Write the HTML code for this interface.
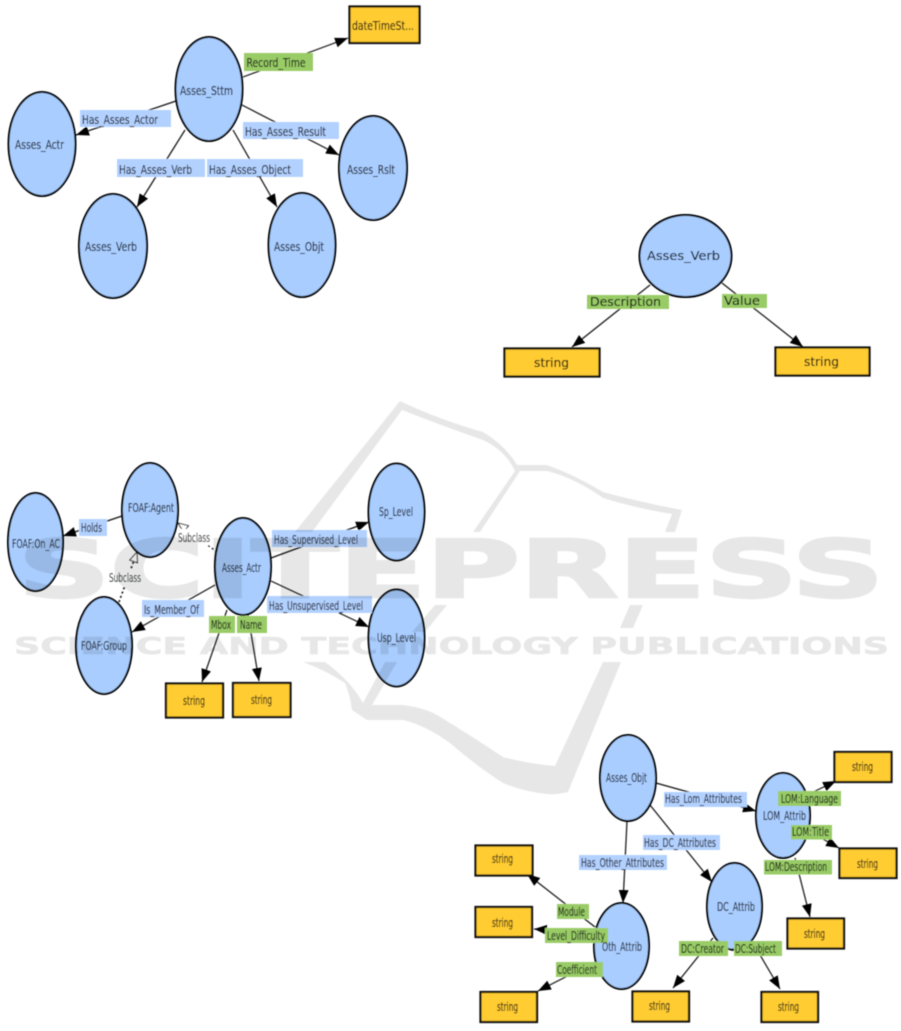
<!DOCTYPE html>
<html><head><meta charset="utf-8"><style>
html,body{margin:0;padding:0;background:#fff;width:901px;height:1031px;overflow:hidden}
svg{display:block}
text{font-family:"DejaVu Sans","Liberation Sans",sans-serif;font-size:12.500px;fill:#0a0a14;stroke:#0a0a14;stroke-width:.12}
.e{fill:#a9cdff;stroke:#000;stroke-width:2}
.r{fill:#ffcc33;stroke:#111;stroke-width:2.200}
.g{fill:#99cc66}
.b{fill:#b3d1ff}
.l{stroke:#111;stroke-width:1.200;fill:none;marker-end:url(#a)}
.wm{mix-blend-mode:multiply}
.wm text{font-family:"DejaVu Sans","Liberation Sans",sans-serif;font-weight:700;fill:#e6e7e6;stroke:#e6e7e6}
.wm path{fill:#e6e7e6;stroke:none}
</style></head><body>
<svg width="901" height="1031" viewBox="0 0 901 1031" xmlns="http://www.w3.org/2000/svg">
<defs>
<marker id="a" markerUnits="userSpaceOnUse" markerWidth="14" markerHeight="12" refX="13" refY="6" orient="auto"><path d="M0,1L13,6L0,11z" fill="#000"/></marker>
<marker id="h" markerUnits="userSpaceOnUse" markerWidth="12" markerHeight="10" refX="11" refY="5" orient="auto"><path d="M1,1L11,5L1,9z" fill="#fff" stroke="#222" stroke-width="1"/></marker>
<filter id="s" x="-2%" y="-2%" width="104%" height="104%"><feGaussianBlur stdDeviation="0.4"/></filter>
</defs>
<g filter="url(#s)">
<!-- top diagram -->
<path class="l" d="M243,77L348,38"/><path class="l" d="M176,101L76,135"/><path class="l" d="M242,105L339,155"/><path class="l" d="M185,130L137,207"/><path class="l" d="M233,130L277,207"/>
<ellipse class="e" cx="209" cy="89" rx="33.500" ry="52"/><ellipse class="e" cx="42" cy="144" rx="33.500" ry="52"/><ellipse class="e" cx="113" cy="246" rx="34" ry="52"/><ellipse class="e" cx="302" cy="245" rx="33.500" ry="52"/><ellipse class="e" cx="373" cy="168" rx="34" ry="52"/>
<rect class="r" x="349.500" y="6.500" width="70" height="36.500"/>
<rect class="g" x="244" y="53" width="69" height="18"/><rect class="b" x="80" y="110" width="91" height="17"/><rect class="b" x="243" y="122" width="96" height="17"/><rect class="b" x="117" y="159" width="88" height="18"/><rect class="b" x="207" y="159" width="96" height="18"/>
<g style="font-size:14.500px">
<text x="180" y="95" textLength="53" lengthAdjust="spacingAndGlyphs">Asses_Sttm</text>
<text x="15" y="149" textLength="49" lengthAdjust="spacingAndGlyphs">Asses_Actr</text>
<text x="85" y="251" textLength="52" lengthAdjust="spacingAndGlyphs">Asses_Verb</text>
<text x="274" y="251" textLength="50" lengthAdjust="spacingAndGlyphs">Asses_Objt</text>
<text x="347" y="174" textLength="48" lengthAdjust="spacingAndGlyphs">Asses_Rslt</text>
<text x="352" y="30" textLength="62" lengthAdjust="spacingAndGlyphs">dateTimeSt...</text>
<text x="246.500" y="67" textLength="59" lengthAdjust="spacingAndGlyphs">Record_Time</text>
<text x="82" y="124" textLength="76" lengthAdjust="spacingAndGlyphs">Has_Asses_Actor</text>
<text x="245" y="136" textLength="81" lengthAdjust="spacingAndGlyphs">Has_Asses_Result</text>
<text x="119" y="174" textLength="73" lengthAdjust="spacingAndGlyphs">Has_Asses_Verb</text>
<text x="209" y="174" textLength="82" lengthAdjust="spacingAndGlyphs">Has_Asses_Object</text>
</g>
<!-- verb diagram -->
<path class="l" d="M650,285L572,347"/><path class="l" d="M722,283L803,347"/>
<ellipse class="e" cx="685.500" cy="256" rx="46" ry="41"/>
<rect class="r" x="504.500" y="348.500" width="95" height="28"/><rect class="r" x="775.500" y="347.500" width="94" height="28"/>
<rect class="g" x="587" y="295" width="82" height="14"/><rect class="g" x="722" y="294" width="45" height="14"/>
<text x="647" y="260" textLength="73" lengthAdjust="spacingAndGlyphs">Asses_Verb</text>
<text x="590" y="306" textLength="71" lengthAdjust="spacingAndGlyphs">Description</text>
<text x="724" y="305" textLength="36" lengthAdjust="spacingAndGlyphs">Value</text>
<text x="534" y="367" textLength="35" lengthAdjust="spacingAndGlyphs">string</text>
<text x="804" y="366" textLength="35" lengthAdjust="spacingAndGlyphs">string</text>
<!-- actor diagram -->
<path class="l" d="M122,516L63,536"/><path class="l" d="M215,585L132,632"/><path class="l" d="M271,558L369,522"/><path class="l" d="M271,581L369,627"/><path class="l" d="M227,610L202,682"/><path class="l" d="M248,615L259,681"/>
<path d="M217,552L178,523" stroke="#111" stroke-width="1.300" stroke-dasharray="2 2.500" fill="none" marker-end="url(#h)"/><path d="M119,602L137,552" stroke="#111" stroke-width="1.600" stroke-dasharray="2 2.500" fill="none" marker-end="url(#h)"/>
<ellipse class="e" cx="35.500" cy="542" rx="27.500" ry="49"/><ellipse class="e" cx="150" cy="510" rx="28" ry="47"/><ellipse class="e" cx="243" cy="566.500" rx="28" ry="48.500"/><ellipse class="e" cx="396.500" cy="512" rx="28" ry="48.500"/><ellipse class="e" cx="396.500" cy="638" rx="28" ry="48.500"/><ellipse class="e" cx="104" cy="645.500" rx="28" ry="48.500"/>
<rect class="r" x="166" y="683.500" width="57" height="34"/><rect class="r" x="233" y="683" width="57.500" height="34"/>
<rect fill="#fff" x="178" y="529" width="33" height="16"/><rect fill="#fff" x="109" y="570" width="32" height="16"/>
<rect class="b" x="79" y="519" width="28" height="17"/><rect class="b" x="272" y="530" width="95" height="17"/><rect class="b" x="267" y="596" width="105" height="17"/><rect class="b" x="142" y="600" width="62" height="17"/><rect class="g" x="209" y="616" width="26" height="17"/><rect class="g" x="237" y="616" width="30" height="17"/>
<g style="font-size:13.500px">
<text x="128" y="512" textLength="46" lengthAdjust="spacingAndGlyphs">FOAF:Agent</text>
<text x="12" y="548" textLength="48" lengthAdjust="spacingAndGlyphs">FOAF:On_AC</text>
<text x="222" y="572" textLength="39" lengthAdjust="spacingAndGlyphs">Asses_Actr</text>
<text x="379" y="516" textLength="34" lengthAdjust="spacingAndGlyphs">Sp_Level</text>
<text x="377" y="642" textLength="39" lengthAdjust="spacingAndGlyphs">Usp_Level</text>
<text x="81" y="650" textLength="46" lengthAdjust="spacingAndGlyphs">FOAF:Group</text>
<text x="183" y="705" textLength="22" lengthAdjust="spacingAndGlyphs">string</text>
<text x="251" y="704" textLength="21" lengthAdjust="spacingAndGlyphs">string</text>
<text x="81" y="532" textLength="21" lengthAdjust="spacingAndGlyphs">Holds</text>
<text x="178" y="542" textLength="32" lengthAdjust="spacingAndGlyphs">Subclass</text>
<text x="109" y="582" textLength="32" lengthAdjust="spacingAndGlyphs">Subclass</text>
<text x="274" y="544" textLength="84" lengthAdjust="spacingAndGlyphs">Has_Supervised_Level</text>
<text x="269" y="610" textLength="94" lengthAdjust="spacingAndGlyphs">Has_Unsupervised_Level</text>
<text x="144" y="614" textLength="55" lengthAdjust="spacingAndGlyphs">Is_Member_Of</text>
<text x="211" y="629" textLength="20" lengthAdjust="spacingAndGlyphs">Mbox</text>
<text x="240" y="629" textLength="22" lengthAdjust="spacingAndGlyphs">Name</text>
</g>
<!-- object diagram -->
<path class="l" d="M656,783L756,811"/><path class="l" d="M650,805L712,882"/><path class="l" d="M627,821L623,903"/><path class="l" d="M803,797L836,781"/><path class="l" d="M807,830L839,848"/><path class="l" d="M795,858L810,917"/><path class="l" d="M595,927L527,874"/><path class="l" d="M594,933L534,929"/><path class="l" d="M595,962L538,991"/><path class="l" d="M713,938L673,988"/><path class="l" d="M753,943L780,989"/>
<ellipse class="e" cx="628" cy="778" rx="28" ry="43"/><ellipse class="e" cx="783" cy="815.500" rx="27" ry="42.500"/><ellipse class="e" cx="734.500" cy="906.500" rx="27.500" ry="43.500"/><ellipse class="e" cx="621.500" cy="946" rx="27.500" ry="43"/>
<rect class="r" x="834.500" y="752" width="57" height="30"/><rect class="r" x="839.500" y="848.500" width="57" height="29.500"/><rect class="r" x="787.500" y="918.500" width="56.500" height="30"/><rect class="r" x="632.500" y="991.500" width="56.500" height="30"/><rect class="r" x="761.500" y="992" width="56.500" height="30"/><rect class="r" x="480.500" y="992" width="56.500" height="30"/><rect class="r" x="475.500" y="907" width="56.500" height="30"/><rect class="r" x="475.500" y="845.500" width="57" height="30"/>
<rect class="b" x="664" y="792" width="83" height="15"/><rect class="b" x="643" y="835" width="77" height="15"/><rect class="b" x="579" y="855" width="88" height="15"/><rect class="g" x="778" y="791" width="63" height="15"/><rect class="g" x="791" y="825" width="41" height="14.500"/><rect class="g" x="764" y="860" width="68" height="14.500"/><rect class="g" x="557" y="904" width="32" height="15"/><rect class="g" x="545" y="928" width="63" height="15"/><rect class="g" x="556" y="962" width="47" height="15"/><rect class="g" x="679" y="941" width="49" height="15"/><rect class="g" x="734" y="941" width="48" height="15"/>
<path d="M728,949H734" stroke="#111" stroke-width="1"/>
<g style="font-size:12.500px">
<text x="606" y="782" textLength="41" lengthAdjust="spacingAndGlyphs">Asses_Objt</text>
<text x="763" y="820" textLength="43" lengthAdjust="spacingAndGlyphs">LOM_Attrib</text>
<text x="717" y="911" textLength="38" lengthAdjust="spacingAndGlyphs">DC_Attrib</text>
<text x="602" y="951" textLength="40" lengthAdjust="spacingAndGlyphs">Oth_Attrib</text>
<text x="852" y="771" textLength="21" lengthAdjust="spacingAndGlyphs">string</text>
<text x="857" y="868" textLength="21" lengthAdjust="spacingAndGlyphs">string</text>
<text x="804" y="938" textLength="21" lengthAdjust="spacingAndGlyphs">string</text>
<text x="649" y="1010" textLength="21" lengthAdjust="spacingAndGlyphs">string</text>
<text x="778" y="1011" textLength="21" lengthAdjust="spacingAndGlyphs">string</text>
<text x="497" y="1011" textLength="21" lengthAdjust="spacingAndGlyphs">string</text>
<text x="492" y="927" textLength="21" lengthAdjust="spacingAndGlyphs">string</text>
<text x="492" y="863" textLength="21" lengthAdjust="spacingAndGlyphs">string</text>
<text x="665" y="803" textLength="77" lengthAdjust="spacingAndGlyphs">Has_Lom_Attributes</text>
<text x="644" y="847" textLength="72" lengthAdjust="spacingAndGlyphs">Has_DC_Attributes</text>
<text x="581" y="867" textLength="83" lengthAdjust="spacingAndGlyphs">Has_Other_Attributes</text>
<text x="781" y="803" textLength="57" lengthAdjust="spacingAndGlyphs">LOM:Language</text>
<text x="792" y="836" textLength="37" lengthAdjust="spacingAndGlyphs">LOM:Title</text>
<text x="765" y="871" textLength="62" lengthAdjust="spacingAndGlyphs">LOM:Description</text>
<text x="558" y="916" textLength="27" lengthAdjust="spacingAndGlyphs">Module</text>
<text x="547" y="940" textLength="58" lengthAdjust="spacingAndGlyphs">Level_Difficulty</text>
<text x="557" y="974" textLength="40" lengthAdjust="spacingAndGlyphs">Coefficient</text>
<text x="681" y="953" textLength="43" lengthAdjust="spacingAndGlyphs">DC:Creator</text>
<text x="735" y="953" textLength="41" lengthAdjust="spacingAndGlyphs">DC:Subject</text>
</g>
</g>
<!-- watermark -->
<g class="wm" filter="url(#s)">
<text x="18" y="597" textLength="866" lengthAdjust="spacingAndGlyphs" style="font-size:79px;stroke-width:2.500px">SCITEPRESS</text>
<text x="14" y="654" textLength="875" lengthAdjust="spacingAndGlyphs" style="font-size:23px;stroke-width:.6px">SCIENCE AND TECHNOLOGY PUBLICATIONS</text>
<path d="M400,401L295,532H312L402,410Q440,425 483,440Q505,450 515,471L473,532H480L520,471H547Q575,478 603,498Q635,508 672,514L665,532H675L682,510Q640,502 603,492Q575,475 547,465H517Q505,445 483,432Q440,420 400,401Z"/>
<path d="M435,605H447L425,632H412Z"/>
<path d="M630,605H643L633,628H620Z"/>
<path d="M303,662H325Q350,680 363,703L385,662H397L372,705H403Q425,708 437,715Q470,735 503,757Q530,764 555,766L603,662H621L568,792Q555,795 547,794Q525,792 503,783Q475,765 450,743Q425,725 403,720H367L352,710Q350,695 345,683Q325,670 303,662Z"/>
</g>
</svg>
</body></html>
